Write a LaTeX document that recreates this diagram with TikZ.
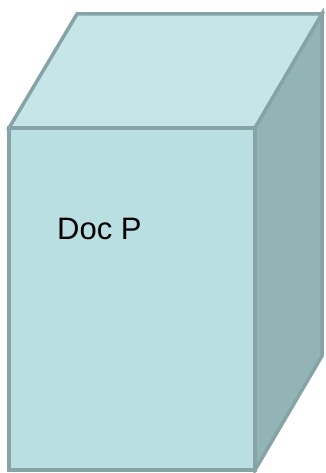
\documentclass[tikz,border=0pt]{standalone}
\usepackage{fontspec}
\setmainfont{Liberation Sans}
\definecolor{frontface}{HTML}{B9DFE3}
\definecolor{topface}{HTML}{C6E5E8}
\definecolor{sideface}{HTML}{93B4B6}
\definecolor{edgeline}{HTML}{86A4A6}
\tikzset{
  face/.style={draw=edgeline, line width=3.5pt, line join=miter},
  label/.style={inner sep=0pt, anchor=base west, font=\fontsize{31}{37}\selectfont}
}
\begin{document}
\begin{tikzpicture}[x=1pt, y=-1pt]
  \useasboundingbox (0,0) rectangle (325,473);
  % box corners
  \coordinate (fl) at (9,128);
  \coordinate (fr) at (255,128);
  \coordinate (bl) at (9,470);
  \coordinate (br) at (255,470);
  \coordinate (tl) at (77,14);
  \coordinate (tr) at (322,14);
  \coordinate (rb) at (322,356);
  % faces
  \path[face, fill=topface] (fl) -- (tl) -- (tr) -- (fr) -- cycle;
  \path[face, fill=sideface] (fr) -- (tr) -- (rb) -- (br) -- cycle;
  \path[face, fill=frontface] (fl) -- (fr) -- (br) -- (bl) -- cycle;
  \node[label] (doc) at (57,239) {Doc P};
\end{tikzpicture}
\end{document}
